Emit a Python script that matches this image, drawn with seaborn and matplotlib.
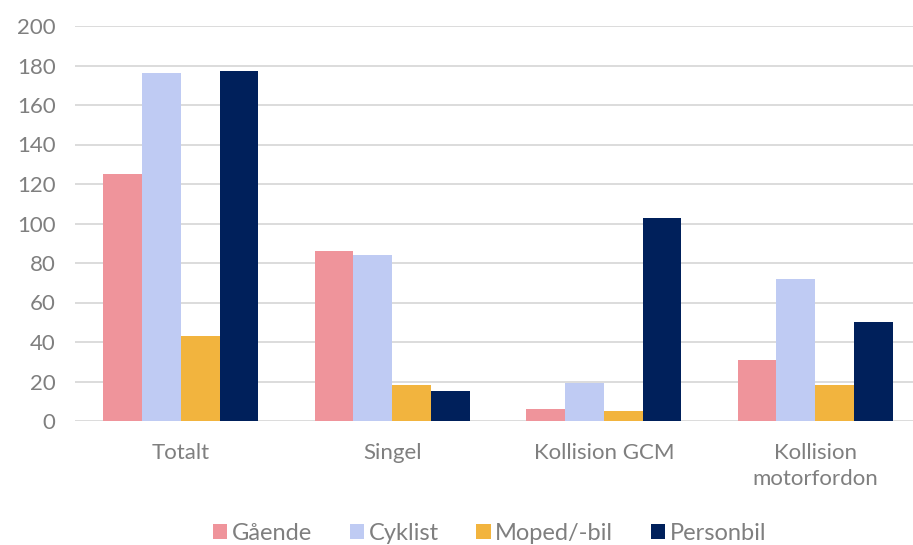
import matplotlib
matplotlib.use("Agg")
import matplotlib.pyplot as plt
import seaborn as sns
import pandas as pd

categories = ["Totalt", "Singel", "Kollision GCM", "Kollision\nmotorfordon"]
series = ["Gående", "Cyklist", "Moped/-bil", "Personbil"]
gaende = [125, 86, 6, 31]
cyklist = [176, 84, 19, 72]
moped = [43, 18, 5, 18]
personbil = [177, 15, 103, 50]
colors = ["#EF949B", "#BFCBF3", "#F2B43E", "#00205B"]

rows = []
for name, vals in zip(series, [gaende, cyklist, moped, personbil]):
    for cat, v in zip(categories, vals):
        rows.append({"Kategori": cat, "Typ": name, "Antal": v})
df = pd.DataFrame(rows)

sns.set_style("white")
plt.rcParams["font.family"] = ["Lato", "DejaVu Sans"]
text_col = "#7F7F7F"
fs = 16

fig = plt.figure(figsize=(9.13, 5.45), dpi=100)
ax = fig.add_axes([75 / 913, 124 / 545, 846 / 913, 395 / 545])

sns.barplot(data=df, x="Kategori", y="Antal", hue="Typ", order=categories,
            hue_order=series, palette=colors, width=0.735, gap=0,
            saturation=1, linewidth=0, ax=ax, zorder=3)

ax.set_ylim(0, 200)
ax.set_yticks(range(0, 201, 20))
ax.set_xlim(-0.5, 3.5)
ax.yaxis.grid(True, color="#D9D9D9", linewidth=1.3, zorder=0)
ax.set_axisbelow(True)
for s in ax.spines.values():
    s.set_visible(False)
ax.set_xlabel("")
ax.set_ylabel("")
ax.tick_params(axis="both", length=0, labelsize=fs, colors=text_col)
ax.tick_params(axis="y", pad=14)
ax.tick_params(axis="x", pad=16)
for lbl in ax.get_xticklabels():
    lbl.set_linespacing(1.35)

handles, labels = ax.get_legend_handles_labels()
ax.legend(handles, labels, loc="center", bbox_to_anchor=(0.5 - 0.01, -0.285),
          bbox_transform=ax.transAxes, ncol=4, frameon=False, fontsize=fs + 1,
          labelcolor=text_col, handlelength=0.6, handleheight=0.6,
          handletextpad=0.2, columnspacing=1.6)

fig.savefig("out.png", dpi=100)
